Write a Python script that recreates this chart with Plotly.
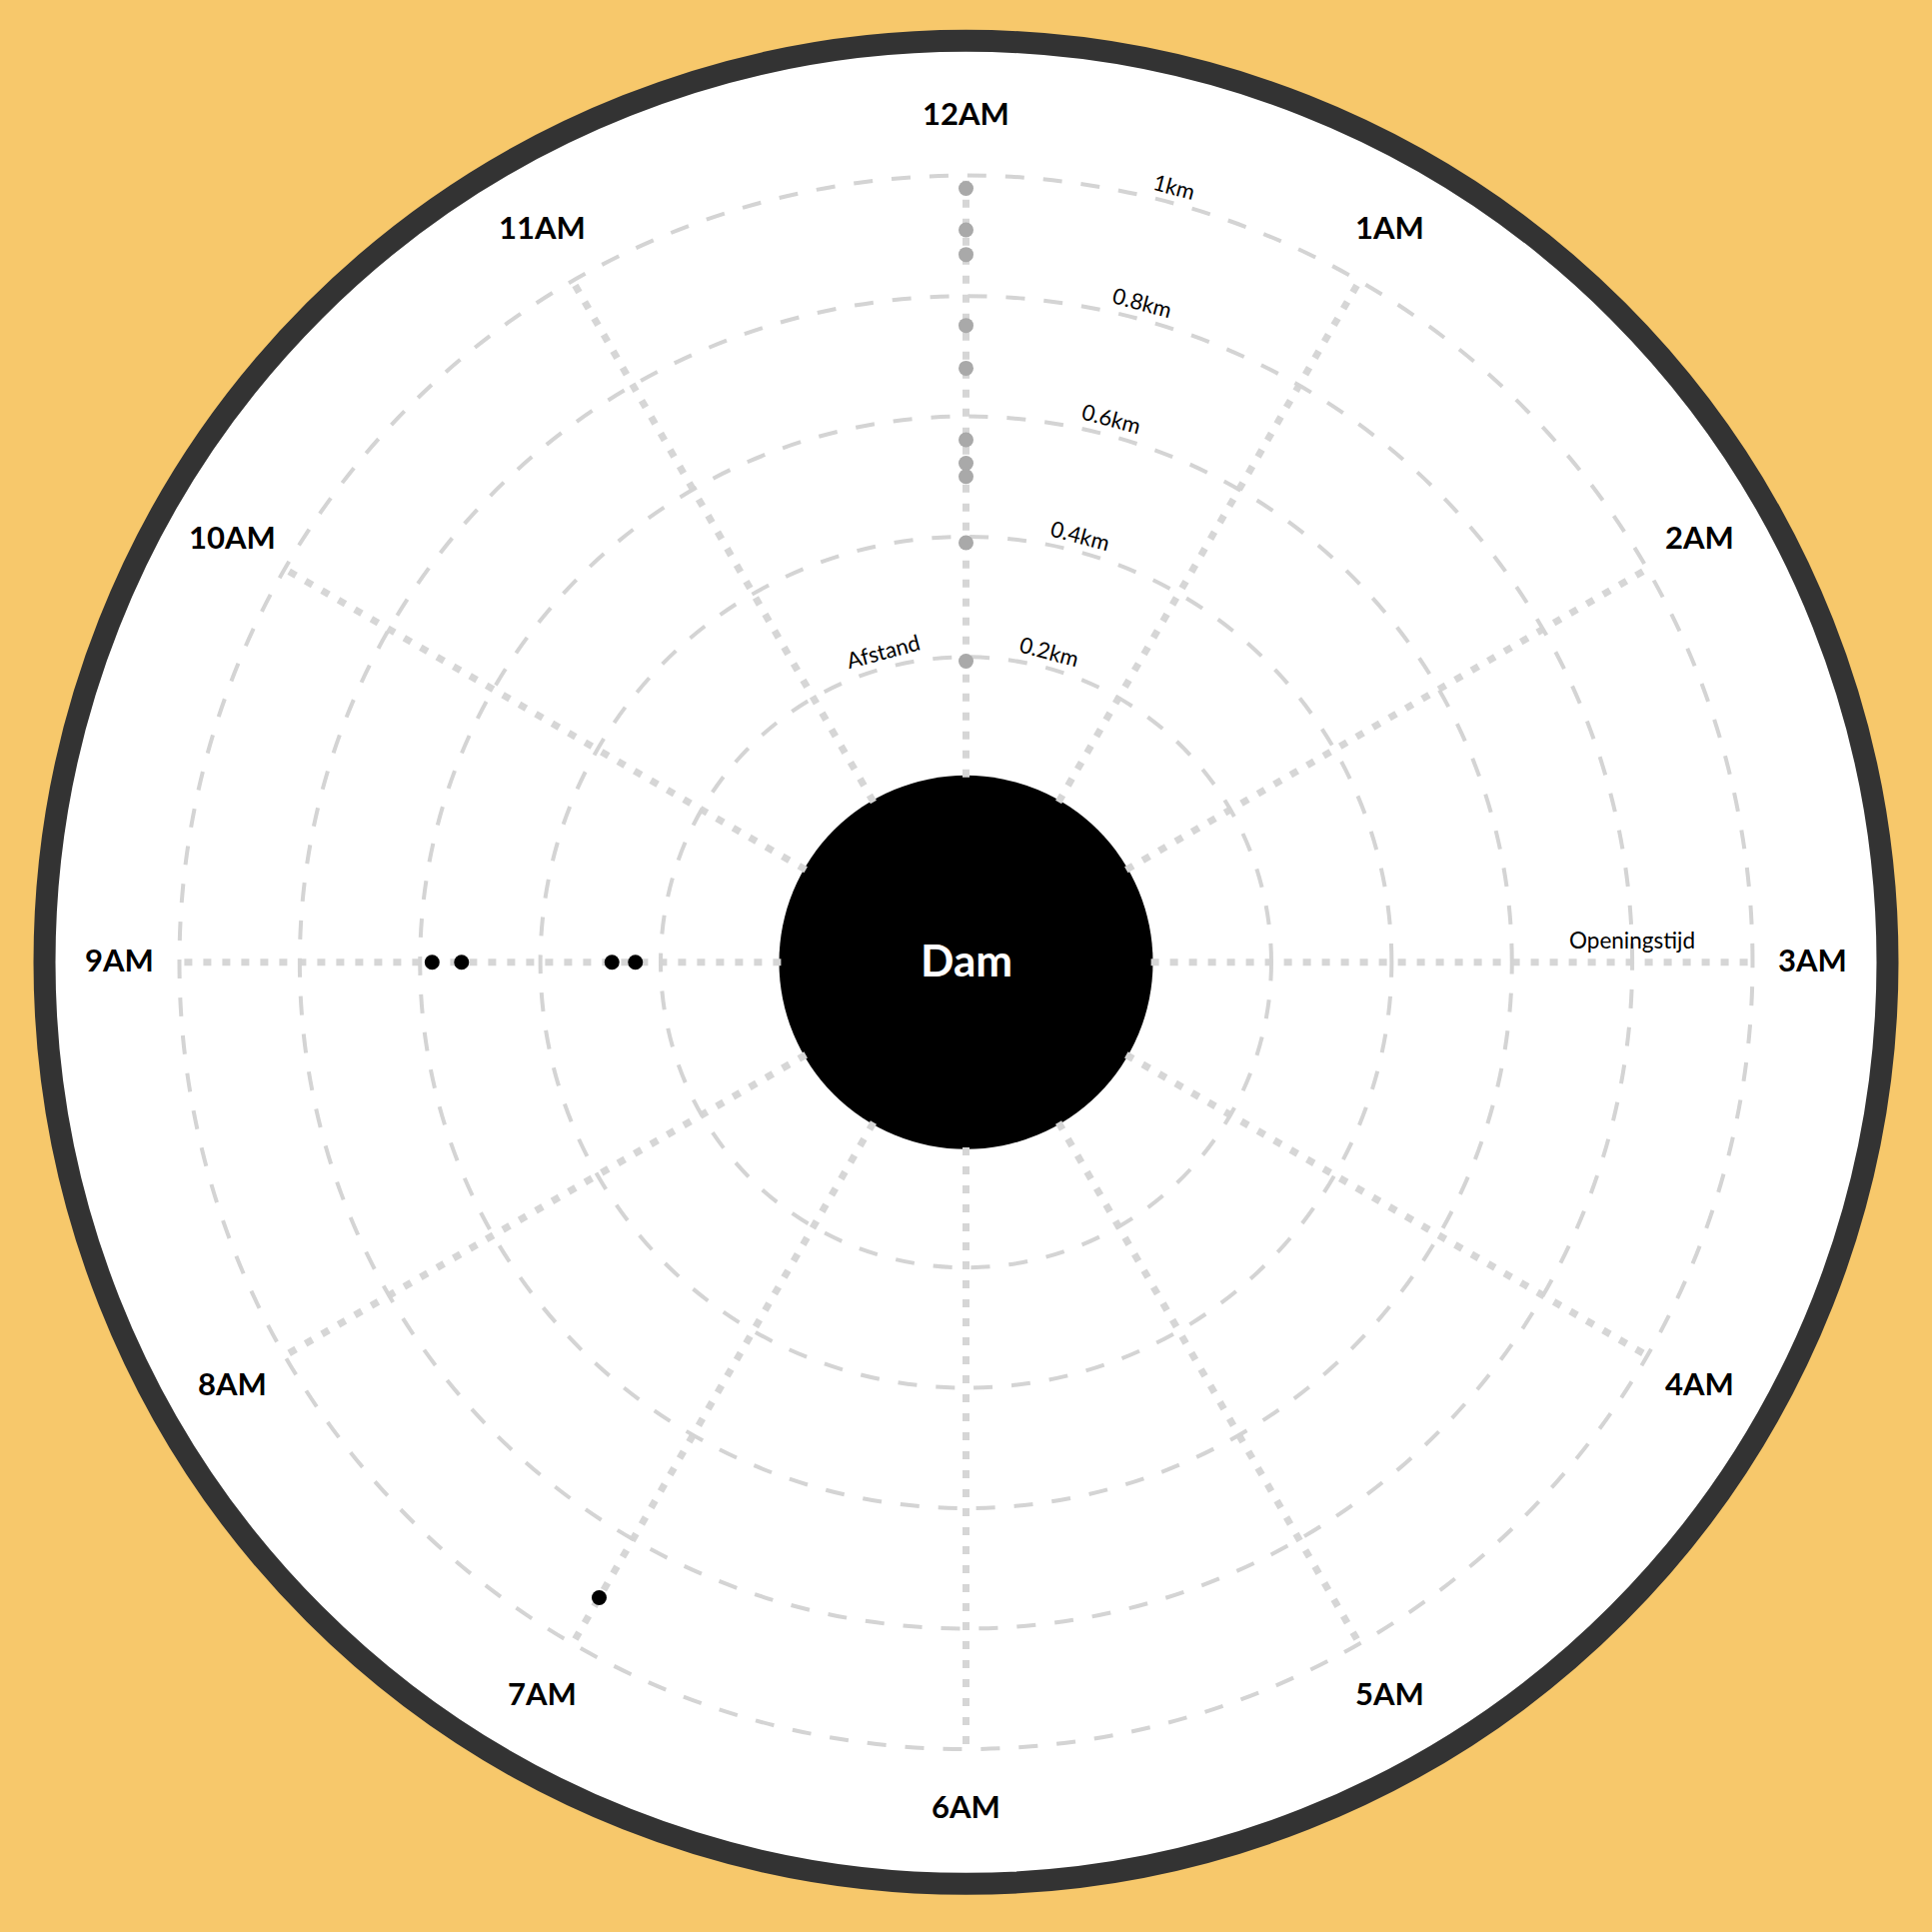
import math
import plotly.graph_objects as go

# ---------------- data ----------------
hours = ["12AM", "1AM", "2AM", "3AM", "4AM", "5AM",
         "6AM", "7AM", "8AM", "9AM", "10AM", "11AM"]

grey_theta = ["12AM"] * 10
grey_r = [0.979, 0.910, 0.869, 0.751, 0.680, 0.561, 0.522, 0.500, 0.390, 0.193]

black_theta = ["9AM", "9AM", "9AM", "9AM", "7AM"]
black_r = [0.580, 0.531, 0.281, 0.242, 0.912]

radial_ticks = [0.2, 0.4, 0.6, 0.8, 1.0]
radial_tick_labels = ["0.2km", "0.4km", "0.6km", "0.8km", "1km"]
radial_title = "Afstand"
angular_title = "Openingstijd"
center_label = "Dam"
hour_label_r = 1.1

# ---------------- geometry / style ----------------
W = H = 1933
CX, CY = 966.5, 962.8      # polar centre in px (from top-left)
R_IN = 185.1               # hole radius in px
K = 601.9                  # px per km
RMAX = 1.004
R = R_IN + K * RMAX        # outer radius of polar area in px
HOLE = R_IN / R
FONT = "Lato"

dom_x = [(CX - R) / W, (CX + R) / W]
dom_y = [1 - (CY + R) / H, 1 - (CY - R) / H]


def to_paper(v, theta_deg, extra=0.0):
    d = R_IN + K * v + extra
    t = math.radians(theta_deg)
    return (CX + d * math.sin(t)) / W, 1 - (CY - d * math.cos(t)) / H


step = 360 / len(hours)

fig = go.Figure()

fig.add_trace(go.Scatterpolar(
    r=grey_r, theta=grey_theta, mode="markers",
    marker=dict(color="#a9a9a9", size=15),
    hoverinfo="skip", showlegend=False,
))
fig.add_trace(go.Scatterpolar(
    r=black_r, theta=black_theta, mode="markers",
    marker=dict(color="#000000", size=15),
    hoverinfo="skip", showlegend=False,
))

annotations = []
# hour labels around the outside
for i, h in enumerate(hours):
    x, y = to_paper(hour_label_r, i * step)
    annotations.append(dict(
        x=x, y=y, xref="paper", yref="paper", text=h, showarrow=False,
        xanchor="center", yanchor="middle", yshift=2.5,
        font=dict(family=FONT, size=31, color="#000000", weight=700),
    ))
# radial distance labels
for v, lab in zip(radial_ticks, radial_tick_labels):
    x, y = to_paper(v, step / 2, 17)
    annotations.append(dict(
        x=x, y=y, xref="paper", yref="paper", text=lab, showarrow=False,
        textangle=step / 2, xanchor="center", yanchor="middle",
        font=dict(family=FONT, size=22, color="#000000"),
    ))
x, y = to_paper(radial_ticks[0], -step / 2, 17)
annotations.append(dict(
    x=x, y=y, xref="paper", yref="paper", text=radial_title, showarrow=False,
    textangle=-step / 2, xanchor="center", yanchor="middle",
    font=dict(family=FONT, size=22, color="#000000"),
))
x, y = to_paper(radial_ticks[3], step * hours.index("3AM"))
annotations.append(dict(
    x=x, y=y, xref="paper", yref="paper", text=angular_title, showarrow=False,
    xanchor="center", yanchor="middle", yshift=22,
    font=dict(family=FONT, size=22.5, color="#000000"),
))
annotations.append(dict(
    x=CX / W, y=1 - CY / H, xref="paper", yref="paper", text=center_label,
    showarrow=False, xanchor="center", yanchor="middle", yshift=2.5,
    font=dict(family=FONT, size=44, color="#ffffff", weight=700),
))

outer_r = 922
hole_r = 187
shapes = [
    dict(type="circle", xref="paper", yref="paper", layer="below",
         x0=(CX - outer_r) / W, x1=(CX + outer_r) / W,
         y0=1 - (CY + outer_r) / H, y1=1 - (CY - outer_r) / H,
         fillcolor="#ffffff", line=dict(color="#333333", width=22)),
    dict(type="circle", xref="paper", yref="paper", layer="below",
         x0=(CX - hole_r) / W, x1=(CX + hole_r) / W,
         y0=1 - (CY + hole_r) / H, y1=1 - (CY - hole_r) / H,
         fillcolor="#000000", line=dict(width=0)),
]

fig.update_layout(
    width=W, height=H, margin=dict(l=0, r=0, t=0, b=0),
    paper_bgcolor="#F7C86B", plot_bgcolor="rgba(0,0,0,0)",
    showlegend=False, hovermode=False,
    shapes=shapes, annotations=annotations,
    polar=dict(
        domain=dict(x=dom_x, y=dom_y),
        bgcolor="rgba(0,0,0,0)",
        hole=HOLE,
        radialaxis=dict(
            range=[0, RMAX], tickvals=radial_ticks, showticklabels=False,
            ticks="", showline=False, gridcolor="#d4d4d4", gridwidth=3.5,
            griddash="19px,19px",
        ),
        angularaxis=dict(
            type="category", categoryarray=hours, direction="clockwise",
            rotation=90, showticklabels=False, ticks="", showline=False,
            gridcolor="#d6d6d6", gridwidth=7, griddash="8px,11px",
        ),
    ),
)

fig.write_html(
    "out.html",
    config={"displayModeBar": False},
    post_script="document.body.style.margin='0';document.body.style.overflow='hidden';",
)
